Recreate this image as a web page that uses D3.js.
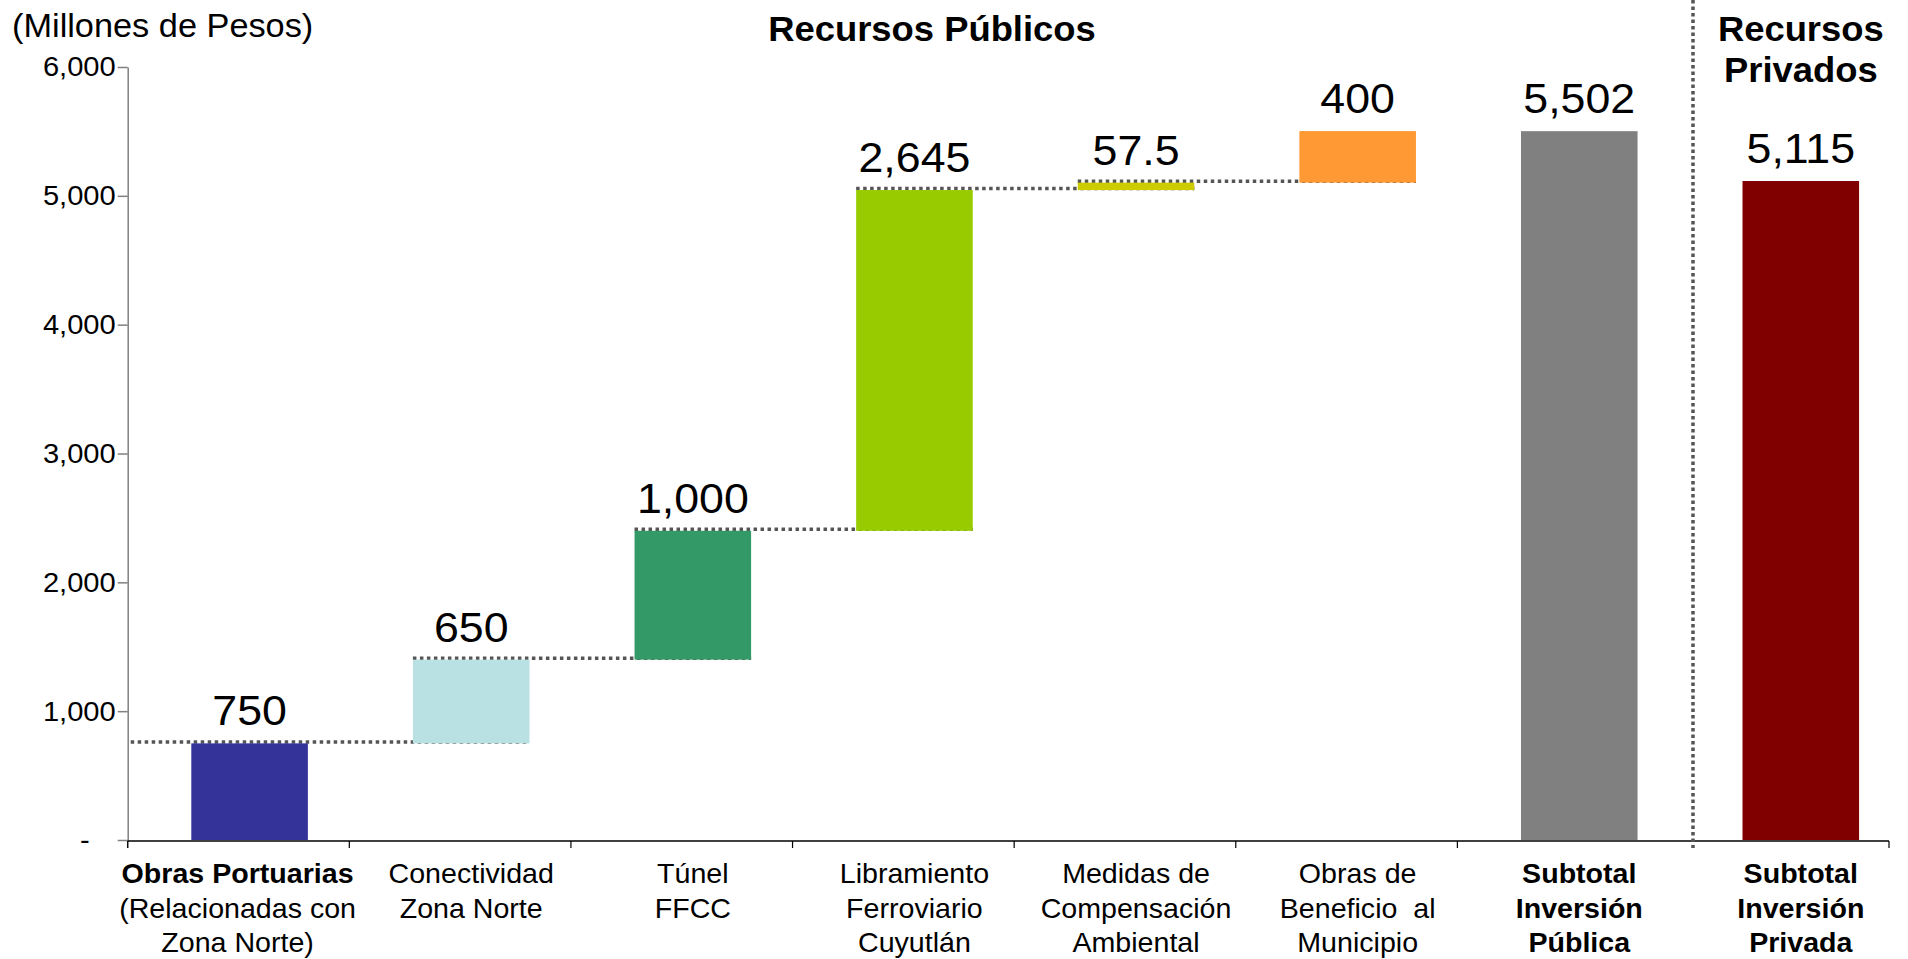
<!DOCTYPE html>
<html>
<head>
<meta charset="utf-8">
<script src="https://cdn.jsdelivr.net/npm/d3@7"></script>
<style>
  body { margin: 0; background: #fff; }
  svg { display: block; font-family: "Liberation Sans", Arial, sans-serif; }
</style>
</head>
<body>
<svg id="chart" width="1908" height="959"></svg>
<script>
// data
const publicCategories = ["Obras Portuarias", "Conectividad Zona Norte", "Túnel FFCC",
  "Libramiento Ferroviario Cuyutlán", "Medidas de Compensación Ambiental",
  "Obras de Beneficio al Municipio", "Subtotal Inversión Pública"];
const publicValues = [750, 650, 1000, 2645, 57.5, 400];
const publicSubtotal = 5502;
const privateCategories = ["Subtotal Inversión Privada"];
const privateValues = [5115];
const yTicks = [0, 1000, 2000, 3000, 4000, 5000, 6000];

// category label lines, bold lines marked with *
const publicLabels = [
  ["*Obras Portuarias", "(Relacionadas con", "Zona Norte)"],
  ["Conectividad", "Zona Norte"],
  ["Túnel", "FFCC"],
  ["Libramiento", "Ferroviario", "Cuyutlán"],
  ["Medidas de", "Compensación", "Ambiental"],
  ["Obras de", "Beneficio  al", "Municipio"],
  ["*Subtotal", "*Inversión", "*Pública"]
];
const privateLabels = [["*Subtotal", "*Inversión", "*Privada"]];

const publicColors = ["#333399", "#b9e0e3", "#339966", "#99cc00", "#cccc00", "#ff9933", "#808080"];
const privateColors = ["#800000"];

const SX = 1.04; // the source text is a bit wide
const fmt = d3.format(",");

const svg = d3.select("#chart");
const axisX = 127.7;

var y = d3.scaleLinear().domain([0, 6000]).range([840, 67]);
var xPub = d3.scaleBand().domain(publicCategories).range([axisX, 1679]);
var xPriv = d3.scaleBand().domain(privateCategories).range([1693, 1889]);
var barW = xPub.bandwidth() * 0.526;

function center(scale, c) { return scale(c) + scale.bandwidth() * 0.55; }

// waterfall steps
var ends = d3.cumsum(publicValues);
var pubBars = publicValues.map(function(v, i) {
  return {cat: publicCategories[i], start: ends[i] - v, end: ends[i], label: fmt(v), color: publicColors[i]};
});
pubBars.push({cat: publicCategories[6], start: 0, end: publicSubtotal, label: fmt(publicSubtotal), color: publicColors[6]});
pubBars.forEach(function(d) { d.cx = center(xPub, d.cat); });

var privBars = privateValues.map(function(v, i) {
  return {cat: privateCategories[i], start: 0, end: v, label: fmt(v), color: privateColors[i], cx: center(xPriv, privateCategories[i])};
});
var allBars = pubBars.concat(privBars);

// y axis
var yAxis = svg.append("g")
  .attr("transform", "translate(" + axisX + ",0)")
  .call(d3.axisLeft(y).tickValues(yTicks).tickSize(10).tickSizeOuter(0)
    .tickFormat(function(d) { return d === 0 ? "-" : fmt(d); }));
yAxis.attr("font-size", 28).attr("font-family", null);
yAxis.select(".domain").attr("stroke", "#808080").attr("stroke-width", 1.5);
yAxis.selectAll(".tick line").attr("stroke", "#808080").attr("stroke-width", 1.5);
yAxis.selectAll(".tick text")
  .attr("fill", "#000")
  .attr("x", 0)
  .attr("transform", function(d) {
    return "translate(" + (d === 0 ? -38 : -12) + ",0) scale(" + SX + ",1)";
  });
svg.append("line")
  .attr("x1", axisX).attr("x2", axisX)
  .attr("y1", y(0)).attr("y2", y(0) + 8)
  .attr("stroke", "#808080").attr("stroke-width", 1.5);

// x axis line and ticks
var xAxisY = y(0) + 1;
svg.append("line")
  .attr("x1", axisX).attr("x2", xPriv.range()[1])
  .attr("y1", xAxisY).attr("y2", xAxisY)
  .attr("stroke", "#000").attr("stroke-width", 1.5);
var tickXs = publicCategories.map(function(c) { return xPub(c); }).concat([xPriv.range()[1]]);
svg.selectAll(".xtick")
  .data(tickXs)
  .enter().append("line")
  .attr("class", "xtick")
  .attr("x1", function(d) { return d; }).attr("x2", function(d) { return d; })
  .attr("y1", xAxisY).attr("y2", xAxisY + 7)
  .attr("stroke", "#000").attr("stroke-width", 1.2);

// dotted divider between public and private
svg.append("line")
  .attr("x1", xPriv.range()[0]).attr("x2", xPriv.range()[0])
  .attr("y1", 0).attr("y2", xAxisY + 7)
  .attr("stroke", "#555").attr("stroke-width", 3.5)
  .attr("stroke-dasharray", "3.5,3");

// connectors between steps (under the bars)
var links = d3.range(publicValues.length - 1).map(function(i) {
  return {
    level: ends[i],
    x1: i === 0 ? axisX + 3 : pubBars[i].cx - barW / 2,
    x2: pubBars[i + 1].cx + barW / 2
  };
});
svg.selectAll(".link")
  .data(links)
  .enter().append("line")
  .attr("class", "link")
  .attr("x1", function(d) { return d.x1; })
  .attr("x2", function(d) { return d.x2; })
  .attr("y1", function(d) { return y(d.level) - 1.5; })
  .attr("y2", function(d) { return y(d.level) - 1.5; })
  .attr("stroke", "#555").attr("stroke-width", 3.5)
  .attr("stroke-dasharray", "3.5,3.5");

// bars
svg.selectAll(".bar")
  .data(allBars)
  .enter().append("rect")
  .attr("class", "bar")
  .attr("x", function(d) { return d.cx - barW / 2; })
  .attr("width", barW)
  .attr("y", function(d) { return y(d.end); })
  .attr("height", function(d) { return y(d.start) - y(d.end); })
  .attr("fill", function(d) { return d.color; });

// value labels
svg.selectAll(".val")
  .data(allBars)
  .enter().append("text")
  .attr("class", "val")
  .attr("text-anchor", "middle")
  .attr("font-size", 43)
  .attr("fill", "#000")
  .attr("transform", function(d) {
    return "translate(" + d.cx + "," + (y(d.end) - 18) + ") scale(" + SX + ",1)";
  })
  .text(function(d) { return d.label; });

// category labels
var catData = pubBars.map(function(d, i) { return {cx: d.cx, lines: publicLabels[i]}; })
  .concat(privBars.map(function(d, i) { return {cx: d.cx, lines: privateLabels[i]}; }));
catData.forEach(function(c, i) {
  var cx = i === 0 ? c.cx - 12 : c.cx;
  c.lines.forEach(function(line, j) {
    var bold = line.charAt(0) === "*";
    svg.append("text")
      .attr("text-anchor", "middle")
      .attr("font-size", 27.5)
      .attr("font-weight", bold ? "bold" : "normal")
      .attr("fill", "#000")
      .attr("transform", "translate(" + cx + "," + (883 + j * 34.5) + ") scale(" + SX + ",1)")
      .style("white-space", "pre")
      .text(bold ? line.slice(1) : line);
  });
});

// titles
svg.append("text")
  .attr("transform", "translate(12,37) scale(" + SX + ",1)")
  .attr("font-size", 33).attr("fill", "#000")
  .text("(Millones de Pesos)");

svg.append("text")
  .attr("transform", "translate(932,41) scale(" + SX + ",1)")
  .attr("text-anchor", "middle")
  .attr("font-size", 35).attr("font-weight", "bold").attr("fill", "#000")
  .text("Recursos Públicos");

["Recursos", "Privados"].forEach(function(t, j) {
  svg.append("text")
    .attr("transform", "translate(" + privBars[0].cx + "," + (41 + j * 41) + ") scale(" + SX + ",1)")
    .attr("text-anchor", "middle")
    .attr("font-size", 35).attr("font-weight", "bold").attr("fill", "#000")
    .text(t);
});
</script>
</body>
</html>
